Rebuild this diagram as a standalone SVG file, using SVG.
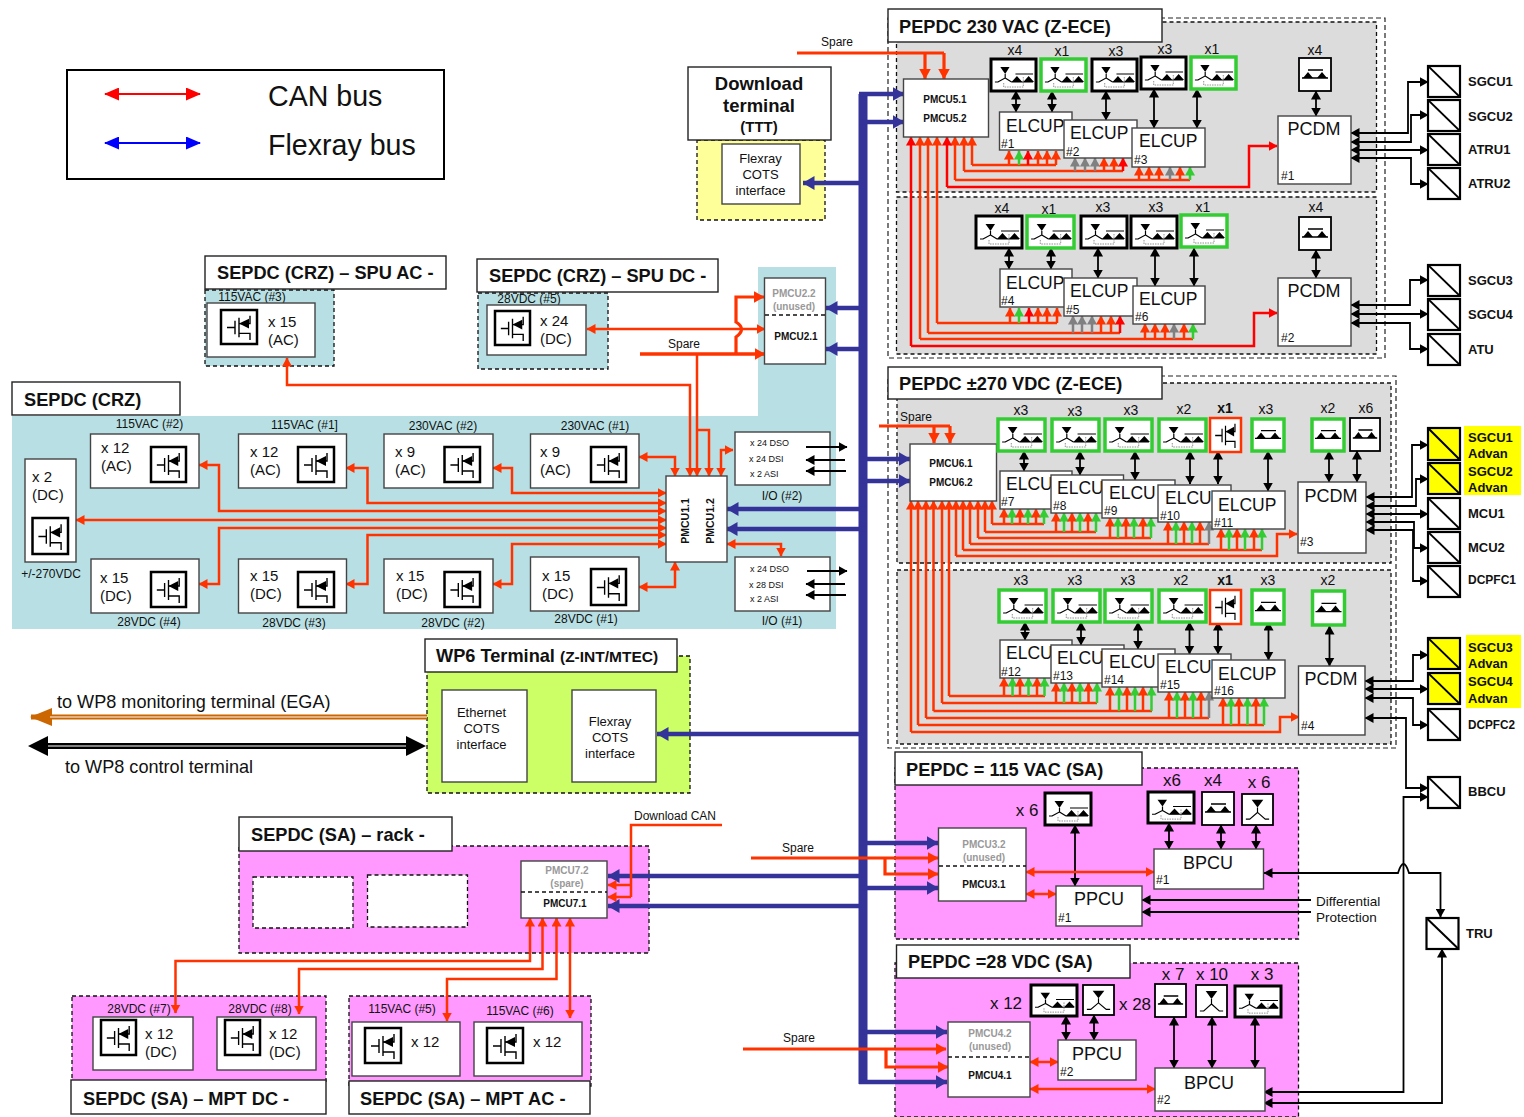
<svg xmlns="http://www.w3.org/2000/svg" width="1524" height="1117" viewBox="0 0 1524 1117">
<style>
text{font-family:"Liberation Sans",Arial,sans-serif;fill:#111}
.t{font-size:18.200px;font-weight:bold}
.b{fill:#fff;stroke:#444;stroke-width:1.4}
.tb{fill:#fff;stroke:#222;stroke-width:1.4}
.d{stroke:#111;stroke-width:1.3;stroke-dasharray:4 3}
.dl{stroke:#222;stroke-width:1.2;stroke-dasharray:5 3;fill:none}
.pg{fill:#dcdcdc}.pt{fill:#b8e0e4}.pp{fill:#ff99ff}
.fk{fill:#fff;stroke:#000;stroke-width:3}
.fk1{fill:#fff;stroke:#000;stroke-width:1.8}
.fg{fill:#fff;stroke:#33cc33;stroke-width:3.5}
.fo{fill:#fff;stroke:#ff3300;stroke-width:2.5}
.fm{fill:#fff;stroke:#000;stroke-width:2.5}
.cv{fill:#fff;stroke:#000;stroke-width:2.2}
.cy{fill:#ffff00;stroke:#000;stroke-width:2.2}
.el{font-size:17.5px}.pc{font-size:18px;text-anchor:middle}
.n{font-size:12px}.x{font-size:14px;text-anchor:middle}.xb{font-size:14px;text-anchor:middle;font-weight:bold}
.x2{font-size:17px;text-anchor:middle}
.s{font-size:12px}.sm{font-size:12px;text-anchor:middle}
.m{font-size:10px;font-weight:bold;text-anchor:middle}.mg{font-size:10px;font-weight:bold;text-anchor:middle;fill:#999}
.mr{font-size:10.500px;font-weight:bold;text-anchor:middle}
.lb{font-size:13px;font-weight:bold}
.xs{font-size:15px}
.dp{font-size:13.500px}
.io{font-size:9px}
.c{font-size:13px;text-anchor:middle}
.o{fill:none;stroke:#ff3300;stroke-width:2.5;marker-end:url(#mo)}
.oo{fill:none;stroke:#ff3300;stroke-width:2.5;marker-end:url(#mo);marker-start:url(#mo)}
.ol{fill:none;stroke:#ff3300;stroke-width:2.5}
.O{fill:none;stroke:#ff3300;stroke-width:3.2;marker-end:url(#mO)}
.OL{fill:none;stroke:#ff3300;stroke-width:3.2}
.g{fill:none;stroke:#33cc33;stroke-width:2.5;marker-end:url(#mg)}
.y{fill:none;stroke:#808080;stroke-width:2.5;marker-end:url(#my)}
.r{fill:none;stroke:#ff0000;stroke-width:2.5;marker-end:url(#mr)}
.k{fill:none;stroke:#000;stroke-width:1.8;marker-end:url(#mk)}
.kk{fill:none;stroke:#000;stroke-width:1.8;marker-end:url(#mk);marker-start:url(#mk)}
.bl{fill:none;stroke:#333399;stroke-width:4.5;marker-end:url(#mb)}
</style>
<defs>
<marker id="mo" markerUnits="userSpaceOnUse" markerWidth="10" markerHeight="10" refX="8.500" refY="5" orient="auto-start-reverse"><path d="M0 0L9 5L0 10Z" fill="#ff3300"/></marker>
<marker id="mO" markerUnits="userSpaceOnUse" markerWidth="12" markerHeight="12" refX="10.500" refY="6" orient="auto-start-reverse"><path d="M0 0L11 6L0 12Z" fill="#ff3300"/></marker>
<marker id="mg" markerUnits="userSpaceOnUse" markerWidth="10" markerHeight="10" refX="8.500" refY="5" orient="auto"><path d="M0 0L9 5L0 10Z" fill="#33cc33"/></marker>
<marker id="my" markerUnits="userSpaceOnUse" markerWidth="10" markerHeight="10" refX="8.500" refY="5" orient="auto"><path d="M0 0L9 5L0 10Z" fill="#808080"/></marker>
<marker id="mr" markerUnits="userSpaceOnUse" markerWidth="10" markerHeight="10" refX="8.500" refY="5" orient="auto-start-reverse"><path d="M0 0L9 5L0 10Z" fill="#ff0000"/></marker>
<marker id="mk" markerUnits="userSpaceOnUse" markerWidth="10" markerHeight="10" refX="8.500" refY="5" orient="auto-start-reverse"><path d="M0 0L9 5L0 10Z" fill="#000"/></marker>
<marker id="mb" markerUnits="userSpaceOnUse" markerWidth="12" markerHeight="14" refX="11.500" refY="7" orient="auto"><path d="M0 0L12 7L0 14Z" fill="#333399"/></marker>
<marker id="mC" markerUnits="userSpaceOnUse" markerWidth="22" markerHeight="18" refX="21" refY="9" orient="auto"><path d="M0 0L22 9L0 18Z" fill="#cc6600"/></marker>
<marker id="mR" markerUnits="userSpaceOnUse" markerWidth="15" markerHeight="13" refX="14" refY="6.500" orient="auto-start-reverse"><path d="M0 0L15 6.500L0 13Z" fill="#ff0000"/></marker>
<marker id="mU" markerUnits="userSpaceOnUse" markerWidth="15" markerHeight="13" refX="14" refY="6.500" orient="auto-start-reverse"><path d="M0 0L15 6.500L0 13Z" fill="#0000ff"/></marker>
<symbol id="ssr" viewBox="0 0 46 32" preserveAspectRatio="none"><path d="M9.500 8H19L14.500 15Z"/><path d="M14.500 15V19L7 23M14.500 19L21 23M7 23H4M21 23H43M25 15H43" fill="none" stroke="#000" stroke-width="1.200"/><path d="M21 23L26.500 17L32 23ZM33 23L38.500 17L44 23Z"/><path d="M13 24V28H33V18" fill="none" stroke="#777" stroke-width="0.8" stroke-dasharray="1.500 1"/></symbol>
<symbol id="dd" viewBox="0 0 32 33" preserveAspectRatio="none"><path d="M9 12H24M3 20H29" fill="none" stroke="#000" stroke-width="1.300"/><path d="M4 20L9 14L14 20ZM18 20L23 14L28 20Z"/></symbol>
<symbol id="yy" viewBox="0 0 32 32" preserveAspectRatio="none"><path d="M10 6H22L16 14Z"/><path d="M16 14V19L8 26H4M16 19L24 26H28" fill="none" stroke="#000" stroke-width="1.200"/></symbol>
<symbol id="mos" viewBox="0 0 36 35" preserveAspectRatio="none"><path d="M6 18H14M14 11V25M18 8V28M18 14H29V6M18 24H29V31" fill="none" stroke="#000" stroke-width="1.400"/><path d="M18 14L28 9V19Z"/></symbol>
<symbol id="conv" viewBox="0 0 32 32" preserveAspectRatio="none"><path d="M0 0L32 32" stroke="#000" stroke-width="2"/></symbol>
</defs>
<rect width="1524" height="1117" fill="#fff"/>

<g id="panels">
<rect class="dl" x="888" y="18" width="497" height="340"/>
<rect class="pg d" x="896.500" y="22" width="480" height="170"/>
<rect class="pg d" x="896.500" y="197" width="480" height="157"/>
<rect class="dl" x="888" y="376" width="508" height="372"/>
<rect class="pg d" x="897" y="383" width="494" height="180"/>
<rect class="pg d" x="897" y="570" width="494" height="174"/>
<rect class="pp d" x="895" y="768" width="403.500" height="171"/>
<rect class="pp d" x="895" y="963" width="403.500" height="154"/>
<path class="pt" d="M12 416H758V267H836V629H12Z"/>
<rect class="pt d" x="205" y="290" width="129" height="76"/>
<rect class="pt d" x="478" y="293" width="130" height="76"/>
<rect x="427" y="656" width="263" height="137" fill="#ccff66" stroke="#111" stroke-width="1.300" stroke-dasharray="4 3"/>
<rect x="697" y="140" width="128" height="80" fill="#ffff99" stroke="#111" stroke-width="1.300" stroke-dasharray="4 3"/>
<rect class="pp d" x="239" y="846" width="410" height="107"/>
<rect class="pp d" x="72" y="996" width="254" height="88"/>
<rect class="pp d" x="349" y="996" width="242" height="90"/>
</g>

<g id="connectors">
<rect x="858.500" y="94" width="9" height="990" fill="#333399"/>
<path class="bl" d="M859 94H904"/><path class="bl" d="M859 122H904"/><path class="bl" d="M859 183H803"/>
<path class="bl" d="M859 308H826"/><path class="bl" d="M859 349H826"/><path class="bl" d="M867 509H727"/><path class="bl" d="M867 529H726"/>
<path class="bl" d="M859 459H910"/><path class="bl" d="M859 481H910"/><path class="bl" d="M859 734H657"/>
<path class="bl" d="M859 843H938"/><path class="bl" d="M859 888H938"/><path class="bl" d="M859 876H608"/><path class="bl" d="M859 906H608"/>
<path class="bl" d="M859 1032H947"/><path class="bl" d="M859 1082H947"/>
<path d="M105 94H200" fill="none" stroke="#ff0000" stroke-width="2" marker-start="url(#mR)" marker-end="url(#mR)"/>
<path d="M105 143H200" fill="none" stroke="#0000ff" stroke-width="2" marker-start="url(#mU)" marker-end="url(#mU)"/>
<path class="OL" d="M797 53H944"/><path class="O" d="M925 53V79"/><path class="O" d="M944 53V79"/>
<path class="o" d="M972 165V137"/><path class="ol" d="M972 165H1056"/>
<path class="o" d="M964 171V137"/><path class="ol" d="M964 171H1123"/>
<path class="o" d="M955 180V137"/><path class="ol" d="M955 180H1190"/>
<path class="r" d="M947 187V137"/><path class="r" d="M947 187H1249V146H1277"/>
<path class="o" d="M1009 165V151"/><path class="g" d="M1019 165V151"/><path class="r" d="M1028 165V151"/><path class="o" d="M1038 165V151"/><path class="o" d="M1047 165V151"/><path class="o" d="M1056 165V151"/>
<path class="y" d="M1075 171V158"/><path class="y" d="M1085 171V158"/><path class="y" d="M1095 171V158"/><path class="o" d="M1104 171V158"/><path class="o" d="M1114 171V158"/><path class="r" d="M1123 171V158"/>
<path class="o" d="M1139 180V167"/><path class="o" d="M1149 180V167"/><path class="o" d="M1159 180V167"/><path class="y" d="M1170 180V167"/><path class="o" d="M1180 180V167"/><path class="g" d="M1190 180V167"/>
<path class="kk" d="M1016 91V112"/><path class="kk" d="M1052 91V112"/><path class="kk" d="M1106 91V120"/><path class="kk" d="M1154 89V128"/><path class="kk" d="M1197 89V128"/><path class="kk" d="M1316 91V116"/>
<path class="o" d="M937 323V137"/><path class="ol" d="M937 323H1057"/>
<path class="o" d="M928 333V137"/><path class="ol" d="M928 333H1120"/>
<path class="o" d="M920 339V137"/><path class="ol" d="M920 339H1193"/>
<path class="r" d="M911 346V137"/><path class="r" d="M911 346H1254V313H1277"/>
<path class="o" d="M1010 323V308"/><path class="g" d="M1019 323V308"/><path class="r" d="M1029 323V308"/><path class="o" d="M1038 323V308"/><path class="o" d="M1047 323V308"/><path class="o" d="M1057 323V308"/>
<path class="y" d="M1073 333V316"/><path class="y" d="M1082 333V316"/><path class="y" d="M1092 333V316"/><path class="o" d="M1101 333V316"/><path class="o" d="M1111 333V316"/><path class="r" d="M1120 333V316"/>
<path class="o" d="M1145 339V324"/><path class="o" d="M1155 339V324"/><path class="o" d="M1165 339V324"/><path class="y" d="M1174 339V324"/><path class="o" d="M1184 339V324"/><path class="g" d="M1193 339V324"/>
<path class="kk" d="M1009 248V269"/><path class="kk" d="M1051 248V269"/><path class="kk" d="M1098 248V278"/><path class="kk" d="M1155 248V286"/><path class="kk" d="M1194 248V286"/><path class="kk" d="M1316 250V278"/>
<path class="kk" d="M1351 133H1408V82H1428"/><path class="kk" d="M1351 142H1411V115H1428"/><path class="kk" d="M1351 150H1428"/><path class="kk" d="M1351 158H1411V184H1428"/>
<path class="kk" d="M1351 305H1410V280H1428"/><path class="kk" d="M1351 314H1428"/><path class="kk" d="M1351 323H1410V349H1428"/>
<path class="OL" d="M879 426H950"/><path class="O" d="M934 426V443"/><path class="O" d="M950 426V443"/>
<path class="o" d="M992 524V501"/><path class="ol" d="M992 524H1044"/>
<path class="o" d="M985 532V501"/><path class="ol" d="M985 532H1096"/>
<path class="o" d="M978 538V501"/><path class="ol" d="M978 538H1151"/>
<path class="o" d="M970 544V501"/><path class="ol" d="M970 544H1209"/>
<path class="o" d="M963 550V501"/><path class="ol" d="M963 550H1262"/>
<path class="o" d="M956 556V501"/><path class="o" d="M956 556H1277V534H1297"/>
<path class="o" d="M1004 524V509"/><path class="g" d="M1012 524V509"/><path class="o" d="M1020 524V509"/><path class="g" d="M1028 524V509"/><path class="o" d="M1036 524V509"/><path class="g" d="M1044 524V509"/>
<path class="o" d="M1056 532V513"/><path class="g" d="M1064 532V513"/><path class="o" d="M1072 532V513"/><path class="g" d="M1080 532V513"/><path class="o" d="M1088 532V513"/><path class="g" d="M1096 532V513"/>
<path class="o" d="M1110 538V518"/><path class="g" d="M1118 538V518"/><path class="o" d="M1126 538V518"/><path class="g" d="M1134 538V518"/><path class="o" d="M1143 538V518"/><path class="g" d="M1151 538V518"/>
<path class="o" d="M1168 544V522"/><path class="g" d="M1176 544V522"/><path class="o" d="M1184 544V522"/><path class="g" d="M1192 544V522"/><path class="o" d="M1200 544V522"/><path class="y" d="M1209 544V522"/>
<path class="o" d="M1221 550V529"/><path class="g" d="M1229 550V529"/><path class="o" d="M1237 550V529"/><path class="g" d="M1245 550V529"/><path class="o" d="M1254 550V529"/><path class="g" d="M1262 550V529"/>
<path class="kk" d="M1024 451V471"/><path class="kk" d="M1080 451V475"/><path class="kk" d="M1135 451V480"/><path class="kk" d="M1190 451V484"/><path class="kk" d="M1218 451V484"/><path class="kk" d="M1268 451V491"/><path class="kk" d="M1329 451V482"/><path class="kk" d="M1357 451V482"/>
<path class="o" d="M949 696V501"/><path class="ol" d="M949 696H1045"/>
<path class="o" d="M942 703V501"/><path class="ol" d="M942 703H1097"/>
<path class="o" d="M933.500 711V501"/><path class="ol" d="M933.500 711H1152"/>
<path class="o" d="M926 718V501"/><path class="ol" d="M926 718H1209"/>
<path class="o" d="M918 725V501"/><path class="ol" d="M918 725H1264"/>
<path class="o" d="M911 732V501"/><path class="o" d="M911 732H1280V717H1299"/>
<path class="o" d="M1004 696V678"/><path class="g" d="M1012.500 696V678"/><path class="o" d="M1020 696V678"/><path class="g" d="M1028.500 696V678"/><path class="o" d="M1037 696V678"/><path class="g" d="M1044.500 696V678"/>
<path class="o" d="M1056 703V683"/><path class="g" d="M1064 703V683"/><path class="o" d="M1072 703V683"/><path class="g" d="M1080 703V683"/><path class="o" d="M1088.500 703V683"/><path class="g" d="M1097 703V683"/>
<path class="o" d="M1110 711V687"/><path class="g" d="M1119 711V687"/><path class="o" d="M1127 711V687"/><path class="g" d="M1135 711V687"/><path class="o" d="M1143 711V687"/><path class="g" d="M1151.500 711V687"/>
<path class="o" d="M1169 718V692"/><path class="g" d="M1177 718V692"/><path class="o" d="M1185 718V692"/><path class="g" d="M1193 718V692"/><path class="o" d="M1201 718V692"/><path class="y" d="M1209 718V692"/>
<path class="o" d="M1223 725V698"/><path class="g" d="M1231 725V698"/><path class="o" d="M1239 725V698"/><path class="g" d="M1247.500 725V698"/><path class="o" d="M1256 725V698"/><path class="g" d="M1264 725V698"/>
<path class="kk" d="M1025 622V640"/><path class="kk" d="M1081 622V645"/><path class="kk" d="M1138 622V649"/><path class="kk" d="M1189.500 622V654"/><path class="kk" d="M1218 622V654"/><path class="kk" d="M1268.500 622V660"/><path class="kk" d="M1329.500 626V666"/>
<path class="kk" d="M1366 497H1412V445H1428"/><path class="kk" d="M1366 506H1416V479H1428"/><path class="kk" d="M1366 514H1428"/><path class="kk" d="M1366 522H1414V548H1428"/><path class="kk" d="M1366 530H1413V581H1428"/>
<path class="kk" d="M1365 681H1413V655H1428"/><path class="kk" d="M1365 689H1428"/><path class="kk" d="M1365 698H1413V725H1428"/>
<path class="kk" d="M1365 718H1406V788H1428"/>
<path class="kk" d="M1264 1092H1403.500V797H1428"/>
<path class="kk" d="M1264 873H1398Q1403.500 855 1409 873H1440.500V917"/>
<path class="kk" d="M1264 1103H1442V949"/>
<path class="k" d="M1311 900H1142"/><path class="k" d="M1311 912H1142"/>
<path class="kk" d="M1075 825V886"/><path class="kk" d="M1169 823V849"/><path class="kk" d="M1221 825V849"/><path class="kk" d="M1256 825V849"/>
<path class="OL" d="M751 858H885"/><path class="O" d="M885 858H938"/><path class="O" d="M885 858V874H938"/>
<path class="oo" d="M1026 872H1154"/><path class="oo" d="M1026 894H1056"/>
<path class="kk" d="M1066 1016V1040"/><path class="kk" d="M1094 1015V1040"/><path class="kk" d="M1174 1017V1068"/><path class="kk" d="M1212 1017V1068"/><path class="kk" d="M1255 1017V1068"/>
<path class="OL" d="M743 1049H886"/><path class="O" d="M886 1049H946"/><path class="O" d="M886 1049V1067H948"/>
<path class="oo" d="M1030 1062H1058"/><path class="oo" d="M1030 1089H1155"/>
<path d="M427 717H31" fill="none" stroke="#cc6600" stroke-width="5" marker-end="url(#mC)"/>
<path d="M427 717H50" fill="none" stroke="#fff" stroke-width="1"/>
<path d="M44 746H412" fill="none" stroke="#000" stroke-width="6"/>
<path d="M46 746H410" fill="none" stroke="#fff" stroke-width="1.200"/>
<path d="M28 746L48 736V756ZM426 746L406 736V756Z" fill="#000"/>
<path class="ol" d="M722 825H631V897"/><path class="o" d="M631 885H608"/><path class="o" d="M631 897H608"/>
<path class="oo" d="M175.500 1013V961H530V918"/>
<path class="oo" d="M299 1014V969H542.500V918"/>
<path class="oo" d="M447 1021V979H556.500V918"/>
<path class="oo" d="M570 918V1018"/>
<path class="oo" d="M639 457H675V476"/>
<path class="oo" d="M493 468H512V493H666"/>
<path class="oo" d="M346 468H367.500V503H666"/>
<path class="oo" d="M199 465H219V511H666"/>
<path class="oo" d="M76 520H666"/>
<path class="oo" d="M199 584H219V528H666"/>
<path class="oo" d="M346 584H367.500V535H666"/>
<path class="oo" d="M493 584H512V544H666"/>
<path class="oo" d="M639 587H675V562"/>
<path class="oo" d="M727 544H781V556"/>
<path class="oo" d="M721 476V450H733"/>
<path class="oo" d="M287 358V385H690V476"/>
<path class="o" d="M697 354V476"/>
<path class="o" d="M697 430H709V476"/>
<path class="oo" d="M587 329H765"/>
<path class="OL" d="M640 354H765"/><path class="O" d="M640 354H765"/>
<path class="O" d="M736 354V337Q747 329 736 322V297H764"/>
</g>

<g id="legend">
<rect x="67" y="70" width="377" height="109" fill="none" stroke="#000" stroke-width="2"/>
<text x="268" y="106" font-size="28.600">CAN bus</text>
<text x="268" y="155" font-size="28.600">Flexray bus</text>
</g>

<g id="download-terminal">
<rect class="tb" x="688" y="67" width="143" height="73"/>
<text x="759" y="90" font-size="18.500" font-weight="bold" text-anchor="middle">Download</text>
<text x="759" y="112" font-size="18.500" font-weight="bold" text-anchor="middle">terminal</text>
<text x="759" y="132" font-size="15" font-weight="bold" text-anchor="middle">(TTT)</text>
</g>
<g id="flexray-cots-ttt">
<rect class="b" x="722" y="144" width="78" height="60"/>
<text class="c" x="760.500" y="163">Flexray</text><text class="c" x="760.500" y="179">COTS</text><text class="c" x="760.500" y="195">interface</text>
</g>

<g id="pepdc230"><rect class="tb" x="888" y="9" width="274" height="33"/><text class="t" x="899" y="33">PEPDC 230 VAC (Z-ECE)</text><text class="sm" x="837" y="46">Spare</text></g>
<g id="pmcu5"><rect class="b" x="903.500" y="79" width="85" height="58"/><text class="m" x="945" y="103">PMCU5.1</text><text class="m" x="945" y="122">PMCU5.2</text></g>
<g id="sw-a">
<rect class="fk" x="991" y="59" width="45" height="32"/><use href="#ssr" x="991" y="59" width="45" height="32"/>
<rect class="fg" x="1041" y="59" width="45" height="32"/><use href="#ssr" x="1041" y="59" width="45" height="32"/>
<rect class="fk" x="1092" y="59" width="45" height="32"/><use href="#ssr" x="1092" y="59" width="45" height="32"/>
<rect class="fk" x="1141" y="57" width="45" height="32"/><use href="#ssr" x="1141" y="57" width="45" height="32"/>
<rect class="fg" x="1191" y="57" width="45" height="32"/><use href="#ssr" x="1191" y="57" width="45" height="32"/>
<rect class="fk1" x="1299" y="58" width="32" height="33"/><use href="#dd" x="1299" y="58" width="32" height="33"/>
<text class="x" x="1015" y="55">x4</text><text class="x" x="1062" y="56">x1</text><text class="x" x="1116" y="56">x3</text><text class="x" x="1165" y="54">x3</text><text class="x" x="1212" y="54">x1</text><text class="x" x="1315" y="55">x4</text>
</g>
<g id="elcup1"><rect class="b" x="999.500" y="112" width="72.500" height="38"/><text class="el" x="1006" y="132">ELCUP</text><text class="n" x="1001" y="148">#1</text></g>
<g id="elcup2"><rect class="b" x="1064" y="120" width="73" height="38"/><text class="el" x="1070" y="139">ELCUP</text><text class="n" x="1066" y="156">#2</text></g>
<g id="elcup3"><rect class="b" x="1132" y="128" width="73" height="39"/><text class="el" x="1139" y="147">ELCUP</text><text class="n" x="1134" y="164">#3</text></g>
<g id="pcdm1"><rect class="b" x="1278" y="116" width="73" height="68"/><text class="pc" x="1314" y="135">PCDM</text><text class="n" x="1281" y="180">#1</text></g>
<g id="sw-b">
<rect class="fk" x="976" y="216" width="46" height="32"/><use href="#ssr" x="976" y="216" width="46" height="32"/>
<rect class="fg" x="1027" y="216" width="47" height="32"/><use href="#ssr" x="1027" y="216" width="47" height="32"/>
<rect class="fk" x="1081" y="216" width="46" height="32"/><use href="#ssr" x="1081" y="216" width="46" height="32"/>
<rect class="fk" x="1131" y="216" width="46" height="32"/><use href="#ssr" x="1131" y="216" width="46" height="32"/>
<rect class="fg" x="1181" y="215" width="46" height="32"/><use href="#ssr" x="1181" y="215" width="46" height="32"/>
<rect class="fk1" x="1299" y="217" width="32" height="33"/><use href="#dd" x="1299" y="217" width="32" height="33"/>
<text class="x" x="1002" y="213">x4</text><text class="x" x="1049" y="214">x1</text><text class="x" x="1103" y="212">x3</text><text class="x" x="1156" y="212">x3</text><text class="x" x="1203" y="212">x1</text><text class="x" x="1316" y="212">x4</text>
</g>
<g id="elcup4"><rect class="b" x="1000" y="269" width="72" height="38"/><text class="el" x="1006" y="289">ELCUP</text><text class="n" x="1001" y="305">#4</text></g>
<g id="elcup5"><rect class="b" x="1064" y="278" width="73" height="38"/><text class="el" x="1070" y="297">ELCUP</text><text class="n" x="1066" y="314">#5</text></g>
<g id="elcup6"><rect class="b" x="1133" y="286" width="72" height="38"/><text class="el" x="1139" y="305">ELCUP</text><text class="n" x="1135" y="321">#6</text></g>
<g id="pcdm2"><rect class="b" x="1278" y="278" width="73" height="68"/><text class="pc" x="1314" y="297">PCDM</text><text class="n" x="1281" y="342">#2</text></g>

<g id="conv-a">
<rect class="cv" x="1428" y="66" width="32" height="31"/><use href="#conv" x="1428" y="66" width="32" height="31"/><text class="lb" x="1468" y="86">SGCU1</text>
<rect class="cv" x="1428" y="100" width="32" height="31"/><use href="#conv" x="1428" y="100" width="32" height="31"/><text class="lb" x="1468" y="121">SGCU2</text>
<rect class="cv" x="1428" y="134" width="32" height="31"/><use href="#conv" x="1428" y="134" width="32" height="31"/><text class="lb" x="1468" y="154">ATRU1</text>
<rect class="cv" x="1428" y="168" width="32" height="31"/><use href="#conv" x="1428" y="168" width="32" height="31"/><text class="lb" x="1468" y="188">ATRU2</text>
<rect class="cv" x="1428" y="265" width="32" height="31"/><use href="#conv" x="1428" y="265" width="32" height="31"/><text class="lb" x="1468" y="285">SGCU3</text>
<rect class="cv" x="1428" y="299" width="32" height="31"/><use href="#conv" x="1428" y="299" width="32" height="31"/><text class="lb" x="1468" y="319">SGCU4</text>
<rect class="cv" x="1428" y="334" width="32" height="31"/><use href="#conv" x="1428" y="334" width="32" height="31"/><text class="lb" x="1468" y="354">ATU</text>
</g>

<g id="pepdc270"><rect class="tb" x="888" y="367" width="274" height="32"/><text class="t" x="899" y="390">PEPDC ±270 VDC (Z-ECE)</text><text class="s" x="900" y="421">Spare</text></g>
<g id="pmcu6"><rect class="b" x="910" y="444" width="86.500" height="57"/><text class="m" x="951" y="467">PMCU6.1</text><text class="m" x="951" y="486">PMCU6.2</text></g>
<g id="sw-c">
<rect class="fg" x="998" y="419" width="47" height="32"/><use href="#ssr" x="998" y="419" width="47" height="32"/>
<rect class="fg" x="1052" y="419" width="47" height="32"/><use href="#ssr" x="1052" y="419" width="47" height="32"/>
<rect class="fg" x="1105" y="419" width="47" height="32"/><use href="#ssr" x="1105" y="419" width="47" height="32"/>
<rect class="fg" x="1159" y="419" width="47" height="32"/><use href="#ssr" x="1159" y="419" width="47" height="32"/>
<rect class="fo" x="1210" y="418" width="31" height="34"/><use href="#mos" x="1210" y="418" width="31" height="34"/>
<rect class="fg" x="1252" y="419" width="32" height="32"/><use href="#dd" x="1252" y="419" width="32" height="32"/>
<rect class="fg" x="1312" y="419" width="32" height="32"/><use href="#dd" x="1312" y="419" width="32" height="32"/>
<rect class="fk1" x="1350" y="418" width="30" height="33"/><use href="#dd" x="1350" y="418" width="30" height="33"/>
<text class="x" x="1021" y="415">x3</text><text class="x" x="1075" y="416">x3</text><text class="x" x="1131" y="415">x3</text><text class="x" x="1184" y="414">x2</text><text class="xb" x="1225" y="413">x1</text><text class="x" x="1266" y="414">x3</text><text class="x" x="1328" y="413">x2</text><text class="x" x="1366" y="413">x6</text>
</g>
<g id="elcu7"><rect class="b" x="1000" y="471" width="72" height="38"/><text class="el" x="1006" y="490">ELCU</text><text class="n" x="1001" y="506">#7</text></g>
<g id="elcu8"><rect class="b" x="1051" y="475" width="72.500" height="38"/><text class="el" x="1057" y="494">ELCU</text><text class="n" x="1053" y="510">#8</text></g>
<g id="elcu9"><rect class="b" x="1102" y="480" width="73" height="38"/><text class="el" x="1109" y="499">ELCU</text><text class="n" x="1104" y="515">#9</text></g>
<g id="elcu10"><rect class="b" x="1158" y="485" width="73" height="37"/><text class="el" x="1165" y="504">ELCU</text><text class="n" x="1160" y="520">#10</text></g>
<g id="elcu11"><rect class="b" x="1212" y="491" width="73" height="38"/><text class="el" x="1218" y="511">ELCUP</text><text class="n" x="1214" y="527">#11</text></g>
<g id="pcdm3"><rect class="b" x="1298" y="482" width="68" height="71"/><text class="pc" x="1331" y="502">PCDM</text><text class="n" x="1300" y="546">#3</text></g>
<g id="sw-d">
<rect class="fg" x="999" y="590" width="47" height="32"/><use href="#ssr" x="999" y="590" width="47" height="32"/>
<rect class="fg" x="1053" y="590" width="47" height="32"/><use href="#ssr" x="1053" y="590" width="47" height="32"/>
<rect class="fg" x="1105" y="590" width="47" height="32"/><use href="#ssr" x="1105" y="590" width="47" height="32"/>
<rect class="fg" x="1159" y="590" width="47" height="32"/><use href="#ssr" x="1159" y="590" width="47" height="32"/>
<rect class="fo" x="1210" y="590" width="31" height="34"/><use href="#mos" x="1210" y="590" width="31" height="34"/>
<rect class="fg" x="1252" y="590" width="32" height="34"/><use href="#dd" x="1252" y="590" width="32" height="34"/>
<rect class="fg" x="1312.500" y="591" width="32" height="34"/><use href="#dd" x="1312.500" y="591" width="32" height="34"/>
<text class="x" x="1021" y="585">x3</text><text class="x" x="1075" y="585">x3</text><text class="x" x="1128" y="585">x3</text><text class="x" x="1181" y="585">x2</text><text class="xb" x="1225" y="585">x1</text><text class="x" x="1268" y="585">x3</text><text class="x" x="1328" y="585">x2</text>
</g>
<g id="elcu12"><rect class="b" x="1000" y="640" width="72" height="38"/><text class="el" x="1006" y="659">ELCU</text><text class="n" x="1001" y="676">#12</text></g>
<g id="elcu13"><rect class="b" x="1051" y="645" width="73" height="38"/><text class="el" x="1057" y="664">ELCU</text><text class="n" x="1053" y="680">#13</text></g>
<g id="elcu14"><rect class="b" x="1102" y="649" width="73" height="38"/><text class="el" x="1109" y="668">ELCU</text><text class="n" x="1104" y="684">#14</text></g>
<g id="elcu15"><rect class="b" x="1158" y="654" width="73" height="38"/><text class="el" x="1165" y="673">ELCU</text><text class="n" x="1160" y="689">#15</text></g>
<g id="elcu16"><rect class="b" x="1212" y="660" width="73" height="38"/><text class="el" x="1218" y="680">ELCUP</text><text class="n" x="1214" y="695">#16</text></g>
<g id="pcdm4"><rect class="b" x="1298.500" y="666" width="66.500" height="69"/><text class="pc" x="1331" y="685">PCDM</text><text class="n" x="1301" y="730">#4</text></g>
<g id="conv-b">
<rect x="1464" y="426" width="57" height="69" fill="#ffff00"/>
<rect x="1466" y="635" width="55" height="73" fill="#ffff00"/>
<rect class="cy" x="1428" y="428" width="32" height="32"/><use href="#conv" x="1428" y="428" width="32" height="32"/><text class="lb" x="1468" y="442">SGCU1</text><text class="lb" x="1468" y="458">Advan</text>
<rect class="cy" x="1428" y="463" width="32" height="31"/><use href="#conv" x="1428" y="463" width="32" height="31"/><text class="lb" x="1468" y="476">SGCU2</text><text class="lb" x="1468" y="492">Advan</text>
<rect class="cv" x="1428" y="498" width="32" height="31"/><use href="#conv" x="1428" y="498" width="32" height="31"/><text class="lb" x="1468" y="518">MCU1</text>
<rect class="cv" x="1428" y="532" width="32" height="31"/><use href="#conv" x="1428" y="532" width="32" height="31"/><text class="lb" x="1468" y="552">MCU2</text>
<rect class="cv" x="1428" y="566" width="32" height="31"/><use href="#conv" x="1428" y="566" width="32" height="31"/><text class="lb" x="1468" y="584" textLength="48" lengthAdjust="spacingAndGlyphs">DCPFC1</text>
<rect class="cy" x="1428" y="638" width="32" height="31"/><use href="#conv" x="1428" y="638" width="32" height="31"/><text class="lb" x="1468" y="652">SGCU3</text><text class="lb" x="1468" y="668">Advan</text>
<rect class="cy" x="1428" y="673" width="32" height="31"/><use href="#conv" x="1428" y="673" width="32" height="31"/><text class="lb" x="1468" y="686">SGCU4</text><text class="lb" x="1468" y="703">Advan</text>
<rect class="cv" x="1428" y="709" width="32" height="31"/><use href="#conv" x="1428" y="709" width="32" height="31"/><text class="lb" x="1468" y="729" textLength="47" lengthAdjust="spacingAndGlyphs">DCPFC2</text>
<rect class="cv" x="1428" y="777" width="32" height="31"/><use href="#conv" x="1428" y="777" width="32" height="31"/><text class="lb" x="1468" y="796">BBCU</text>
<rect class="cv" x="1426.500" y="918" width="32" height="31"/><use href="#conv" x="1426.500" y="918" width="32" height="31"/><text class="lb" x="1466" y="938">TRU</text>
</g>

<g id="pepdc115"><rect class="tb" x="895" y="752" width="247" height="33"/><text class="t" x="906" y="776">PEPDC = 115 VAC (SA)</text>
<text class="sm" x="798" y="852">Spare</text><text class="dp" x="1316" y="906">Differential</text><text class="dp" x="1316" y="922">Protection</text></g>
<g id="pmcu3"><rect class="b" x="938.500" y="828" width="87.500" height="73"/><path class="d" d="M939 866H1026"/><text class="mg" x="984" y="848">PMCU3.2</text><text class="mg" x="984" y="861">(unused)</text><text class="m" x="984" y="888">PMCU3.1</text></g>
<g id="ppcu1"><rect class="b" x="1056" y="886" width="86" height="40"/><text class="pc" x="1099" y="905">PPCU</text><text class="n" x="1058" y="922">#1</text></g>
<g id="bpcu1"><rect class="b" x="1154" y="849" width="109.500" height="40"/><text class="pc" x="1208" y="869">BPCU</text><text class="n" x="1156" y="884">#1</text></g>
<g id="sw-e">
<rect class="fk" x="1045" y="793" width="46" height="32"/><use href="#ssr" x="1045" y="793" width="46" height="32"/>
<rect class="fk" x="1148" y="792" width="46" height="31"/><use href="#ssr" x="1148" y="792" width="46" height="31"/>
<rect class="fk1" x="1202" y="792" width="32" height="33"/><use href="#dd" x="1202" y="792" width="32" height="33"/>
<rect class="fk1" x="1242" y="794" width="31" height="31"/><use href="#yy" x="1242" y="794" width="31" height="31"/>
<text class="x2" x="1027" y="816">x 6</text><text class="x2" x="1172" y="786">x6</text><text class="x2" x="1213" y="786">x4</text><text class="x2" x="1259" y="788">x 6</text>
</g>

<g id="pepdc28"><rect class="tb" x="896.500" y="945" width="233.500" height="33"/><text class="t" x="908" y="968">PEPDC =28 VDC (SA)</text><text class="sm" x="799" y="1042">Spare</text></g>
<g id="pmcu4"><rect class="b" x="948" y="1022" width="82" height="75"/><path class="d" d="M948 1057H1030"/><text class="mg" x="990" y="1037">PMCU4.2</text><text class="mg" x="990" y="1050">(unused)</text><text class="m" x="990" y="1079">PMCU4.1</text></g>
<g id="ppcu2"><rect class="b" x="1058" y="1040" width="78" height="40"/><text class="pc" x="1097" y="1060">PPCU</text><text class="n" x="1060" y="1076">#2</text></g>
<g id="bpcu2"><rect class="b" x="1155" y="1068" width="110" height="43"/><text class="pc" x="1209" y="1089">BPCU</text><text class="n" x="1157" y="1104">#2</text></g>
<g id="sw-f">
<rect class="fk" x="1031" y="985" width="46" height="31"/><use href="#ssr" x="1031" y="985" width="46" height="31"/>
<rect class="fk1" x="1083" y="985" width="31" height="30"/><use href="#yy" x="1083" y="985" width="31" height="30"/>
<rect class="fk1" x="1155" y="984" width="31" height="33"/><use href="#dd" x="1155" y="984" width="31" height="33"/>
<rect class="fk1" x="1196" y="985" width="31" height="32"/><use href="#yy" x="1196" y="985" width="31" height="32"/>
<rect class="fk" x="1235" y="986" width="46" height="31"/><use href="#ssr" x="1235" y="986" width="46" height="31"/>
<text class="x2" x="1006" y="1009">x 12</text><text class="x2" x="1135" y="1010">x 28</text><text class="x2" x="1173" y="980">x 7</text><text class="x2" x="1212" y="980">x 10</text><text class="x2" x="1262" y="980">x 3</text>
</g>

<g id="wp6"><rect class="tb" x="425" y="639" width="252" height="33"/><text x="436" y="662" font-size="18.200" font-weight="bold">WP6 Terminal <tspan font-size="15.500">(Z-INT/MTEC)</tspan></text></g>
<g id="ethernet-cots"><rect class="b" x="442" y="690" width="85" height="92"/><text class="c" x="481.500" y="717">Ethernet</text><text class="c" x="481.500" y="733">COTS</text><text class="c" x="481.500" y="749">interface</text></g>
<g id="flexray-cots-wp6"><rect class="b" x="572" y="690" width="84" height="92"/><text class="c" x="610" y="726">Flexray</text><text class="c" x="610" y="742">COTS</text><text class="c" x="610" y="758">interface</text></g>
<text x="57" y="708" font-size="18.100">to WP8 monitoring terminal (EGA)</text>
<text x="65" y="773" font-size="18.100">to WP8 control terminal</text>

<g id="sepdc-sa-rack"><rect class="tb" x="239" y="817" width="213" height="34"/><text class="t" x="251" y="841">SEPDC (SA) – rack -</text>
<rect x="253" y="877" width="100" height="51" fill="#fff" stroke="#111" stroke-width="1.300" stroke-dasharray="4 3"/>
<rect x="367.500" y="875" width="100" height="52" fill="#fff" stroke="#111" stroke-width="1.300" stroke-dasharray="4 3"/>
<text class="sm" x="675" y="820">Download CAN</text></g>
<g id="pmcu7"><rect class="b" x="521" y="861" width="86" height="57"/><path class="d" d="M521 892H607"/><text class="mg" x="567" y="874">PMCU7.2</text><text class="mg" x="567" y="887">(spare)</text><text class="m" x="565" y="907">PMCU7.1</text></g>

<g id="mpt-dc"><rect class="tb" x="71" y="1080" width="255" height="34"/><text class="t" x="83" y="1105">SEPDC (SA) – MPT DC -</text>
<text class="sm" x="139" y="1013">28VDC (#7)</text><text class="sm" x="260" y="1013">28VDC (#8)</text>
<rect class="b" x="93" y="1017" width="100" height="53"/><rect class="fm" x="101" y="1020" width="35" height="35"/><use href="#mos" x="101" y="1020" width="35" height="35"/><text class="xs" x="145" y="1039">x 12</text><text class="xs" x="145" y="1057">(DC)</text>
<rect class="b" x="217" y="1017" width="99" height="53"/><rect class="fm" x="225" y="1020" width="35" height="35"/><use href="#mos" x="225" y="1020" width="35" height="35"/><text class="xs" x="269" y="1039">x 12</text><text class="xs" x="269" y="1057">(DC)</text></g>
<g id="mpt-ac"><rect class="tb" x="349" y="1081" width="241" height="33"/><text class="t" x="360" y="1105">SEPDC (SA) – MPT AC -</text>
<text class="sm" x="402" y="1013">115VAC (#5)</text><text class="sm" x="520" y="1015">115VAC (#6)</text>
<rect class="b" x="352" y="1022" width="108" height="54"/><rect class="fm" x="365" y="1028" width="36" height="35"/><use href="#mos" x="365" y="1028" width="36" height="35"/><text class="xs" x="411" y="1047">x 12</text>
<rect class="b" x="474" y="1022" width="108" height="54"/><rect class="fm" x="487" y="1028" width="36" height="35"/><use href="#mos" x="487" y="1028" width="36" height="35"/><text class="xs" x="533" y="1047">x 12</text></g>

<g id="sepdc-crz"><rect class="tb" x="12" y="382" width="168" height="33"/><text class="t" x="24" y="406">SEPDC (CRZ)</text></g>
<g id="crz-ac"><text class="sm" x="149.500" y="428">115VAC (#2)</text><text class="sm" x="304.500" y="429">115VAC (#1]</text><text class="sm" x="443" y="430">230VAC (#2)</text><text class="sm" x="595" y="430">230VAC (#1)</text>
<rect class="b" x="90.500" y="434" width="108.500" height="54"/><rect class="fm" x="151" y="447" width="35" height="35"/><use href="#mos" x="151" y="447" width="35" height="35"/><text class="xs" x="101" y="453">x 12</text><text class="xs" x="101" y="471">(AC)</text>
<rect class="b" x="238.500" y="434" width="108" height="54"/><rect class="fm" x="298" y="447" width="36" height="35"/><use href="#mos" x="298" y="447" width="36" height="35"/><text class="xs" x="250" y="457">x 12</text><text class="xs" x="250" y="475">(AC)</text>
<rect class="b" x="384" y="434" width="109" height="54"/><rect class="fm" x="444.500" y="447" width="35.500" height="35"/><use href="#mos" x="444.500" y="447" width="35.500" height="35"/><text class="xs" x="395" y="457">x 9</text><text class="xs" x="395" y="475">(AC)</text>
<rect class="b" x="530.500" y="434" width="108.500" height="54"/><rect class="fm" x="591" y="447" width="35" height="35"/><use href="#mos" x="591" y="447" width="35" height="35"/><text class="xs" x="540" y="457">x 9</text><text class="xs" x="540" y="475">(AC)</text></g>
<g id="crz-left"><rect class="b" x="25" y="459" width="51" height="103"/><rect class="fm" x="32.500" y="518" width="35.500" height="36"/><use href="#mos" x="32.500" y="518" width="35.500" height="36"/><text class="xs" x="32" y="482">x 2</text><text class="xs" x="32" y="500">(DC)</text><text class="sm" x="51" y="578">+/-270VDC</text></g>
<g id="crz-dc"><text class="sm" x="149" y="626">28VDC (#4)</text><text class="sm" x="294" y="627">28VDC (#3)</text><text class="sm" x="453" y="627">28VDC (#2)</text><text class="sm" x="586" y="623">28VDC (#1)</text>
<rect class="b" x="91" y="559" width="108" height="54"/><rect class="fm" x="151" y="572" width="35" height="35"/><use href="#mos" x="151" y="572" width="35" height="35"/><text class="xs" x="100" y="583">x 15</text><text class="xs" x="100" y="601">(DC)</text>
<rect class="b" x="238.500" y="559" width="108" height="54"/><rect class="fm" x="298" y="572" width="36" height="35"/><use href="#mos" x="298" y="572" width="36" height="35"/><text class="xs" x="250" y="581">x 15</text><text class="xs" x="250" y="599">(DC)</text>
<rect class="b" x="384" y="559" width="109" height="54"/><rect class="fm" x="444.500" y="572" width="35.500" height="35"/><use href="#mos" x="444.500" y="572" width="35.500" height="35"/><text class="xs" x="396" y="581">x 15</text><text class="xs" x="396" y="599">(DC)</text>
<rect class="b" x="530.500" y="557" width="108.500" height="54"/><rect class="fm" x="591" y="569" width="35" height="36"/><use href="#mos" x="591" y="569" width="35" height="36"/><text class="xs" x="542" y="581">x 15</text><text class="xs" x="542" y="599">(DC)</text></g>
<g id="pmcu1"><rect class="b" x="666" y="476" width="61" height="86"/><text class="mr" transform="translate(689 521) rotate(-90)">PMCU1.1</text><text class="mr" transform="translate(714 521) rotate(-90)">PMCU1.2</text></g>
<g id="io2"><rect class="b" x="735" y="432" width="95" height="53"/><text class="io" x="750" y="446">x 24 DSO</text><text class="io" x="749" y="462">x 24 DSI</text><text class="io" x="750" y="477">x 2 ASI</text><text class="sm" x="782" y="500">I/O (#2)</text></g>
<g id="io1"><rect class="b" x="735" y="557" width="95" height="54"/><text class="io" x="750" y="572">x 24 DSO</text><text class="io" x="749" y="588">x 28 DSI</text><text class="io" x="750" y="602">x 2 ASI</text><text class="sm" x="782" y="625">I/O (#1)</text></g>
<g id="connectors-io">
<path class="k" d="M806 447H847"/><path class="k" d="M845 460H806"/><path class="k" d="M846 471H806"/>
<path class="k" d="M807 571H847"/><path class="k" d="M845 584H806"/><path class="k" d="M846 595H806"/>
</g>
<g id="spu-ac"><rect class="tb" x="205" y="256" width="241" height="33"/><text class="t" x="217" y="279">SEPDC (CRZ) – SPU AC -</text><text class="sm" x="252" y="301">115VAC (#3)</text>
<rect class="b" x="207" y="303" width="108" height="54"/><rect class="fm" x="221" y="310" width="36" height="34"/><use href="#mos" x="221" y="310" width="36" height="34"/><text class="xs" x="268" y="327">x 15</text><text class="xs" x="268" y="345">(AC)</text></g>
<g id="spu-dc"><rect class="tb" x="477" y="259" width="241" height="33"/><text class="t" x="489" y="282">SEPDC (CRZ) – SPU DC -</text><text class="sm" x="529" y="303">28VDC (#5)</text>
<rect class="b" x="487" y="305" width="99" height="50"/><rect class="fm" x="495" y="311" width="35" height="34"/><use href="#mos" x="495" y="311" width="35" height="34"/><text class="xs" x="540" y="326">x 24</text><text class="xs" x="540" y="344">(DC)</text><text class="sm" x="684" y="348">Spare</text></g>
<g id="pmcu2"><rect class="b" x="764.500" y="278" width="61" height="86"/><path class="d" d="M765 315H825"/><text class="mg" x="794" y="297">PMCU2.2</text><text class="mg" x="794" y="310">(unused)</text><text class="m" x="796" y="340">PMCU2.1</text></g>
</svg>
